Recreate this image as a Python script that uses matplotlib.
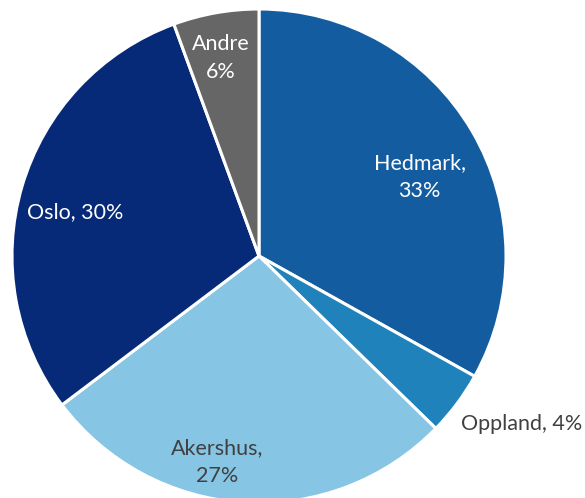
import matplotlib
matplotlib.use("Agg")
import matplotlib.pyplot as plt

categories = ["Hedmark", "Oppland", "Akershus", "Oslo", "Andre"]
values = [33.1, 4.2, 27.4, 29.7, 5.6]
label_texts = ["Hedmark,\n33%", "Oppland, 4%", "Akershus,\n27%", "Oslo, 30%", "Andre\n6%"]
colors = ["#135c9f", "#1f82bb", "#87c5e5", "#062a78", "#666666"]
text_colors = ["white", "#404040", "#404040", "white", "white"]
label_pos = [(0.65, 0.32), (1.063, -0.68), (-0.17, -0.834), (-0.743, 0.178), (-0.155, 0.80)]

plt.rcParams['font.family'] = ['Lato', 'DejaVu Sans']

fig = plt.figure(figsize=(5.85, 4.98), dpi=100)
W, H = 585, 498
cx, cy, r = 259, 256, 247
ax = fig.add_axes([(cx - r) / W, (H - cy - r) / H, 2 * r / W, 2 * r / H])
ax.pie(values, colors=colors, startangle=90, counterclock=False,
       wedgeprops=dict(edgecolor="white", linewidth=2.2), radius=1.0)
ax.set_xlim(-1, 1)
ax.set_ylim(-1, 1)
ax.set_aspect("equal")
ax.axis("off")
for t, (x, y), c in zip(label_texts, label_pos, text_colors):
    ax.text(x, y, t, ha="center", va="center", color=c, fontsize=15.5,
            linespacing=1.5, clip_on=False)

fig.savefig("out.png", dpi=100)
